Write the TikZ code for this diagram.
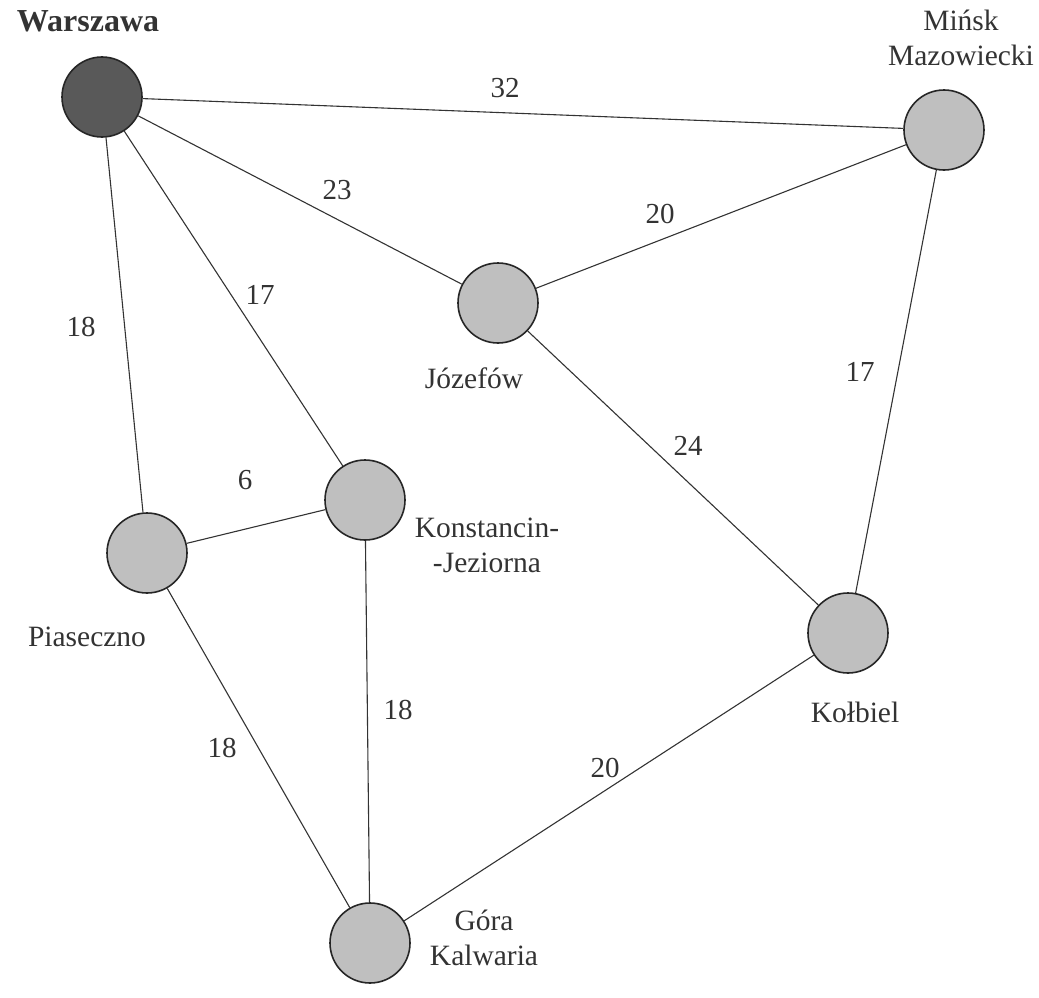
\documentclass[tikz,border=0pt]{standalone}
\usepackage{fontspec}
\setmainfont{Liberation Serif}
\begin{document}
\begin{tikzpicture}[x=1pt,y=-1pt,
  city/.style={circle,draw=black!85,line width=1.6pt,fill=black!25,minimum size=80pt,inner sep=0pt},
  capital/.style={city,fill=black!65},
  road/.style={draw=black!80,line width=1.1pt},
  lbl/.style={font=\fontsize{29.5}{35}\selectfont,text=black!80,inner sep=0pt,align=center},
  wt/.style={font=\fontsize{29}{33}\selectfont,text=black!80,inner sep=0pt}]
\useasboundingbox (0,0) rectangle (1039,998);
\node[capital] (W) at (102,97) {};
\node[city] (M) at (944,130) {};
\node[city] (J) at (498,303) {};
\node[city] (K) at (365,500) {};
\node[city] (P) at (147,553) {};
\node[city] (B) at (848,633) {};
\node[city] (G) at (370,943) {};
\node[lbl,font=\fontsize{32}{36}\selectfont\bfseries] (tW) at (88,21) {Warszawa};
\node[lbl] (tM) at (961,38) {Mińsk\\Mazowiecki};
\node[lbl] (tJ) at (474,378) {Józefów};
\node[lbl] (tK) at (487,545) {Konstancin-\\-Jeziorna};
\node[lbl] (tP) at (87,637) {Piaseczno};
\node[lbl] (tB) at (855,712) {Kołbiel};
\node[lbl] (tG) at (484,938) {Góra\\Kalwaria};
\draw[road] (W) -- (M);
\draw[road] (W) -- (J);
\draw[road] (W) -- (K);
\draw[road] (W) -- (P);
\draw[road] (M) -- (J);
\draw[road] (M) -- (B);
\draw[road] (J) -- (B);
\draw[road] (P) -- (K);
\draw[road] (P) -- (G);
\draw[road] (K) -- (G);
\draw[road] (B) -- (G);
\node[wt] (w1) at (505,88) {32};
\node[wt] (w2) at (337,190) {23};
\node[wt] (w3) at (660,214) {20};
\node[wt] (w4) at (260,295) {17};
\node[wt] (w5) at (81,327) {18};
\node[wt] (w6) at (860,372) {17};
\node[wt] (w7) at (688,446) {24};
\node[wt] (w8) at (245,480) {6};
\node[wt] (w9) at (398,710) {18};
\node[wt] (w10) at (222,748) {18};
\node[wt] (w11) at (605,768) {20};
\end{tikzpicture}
\end{document}
